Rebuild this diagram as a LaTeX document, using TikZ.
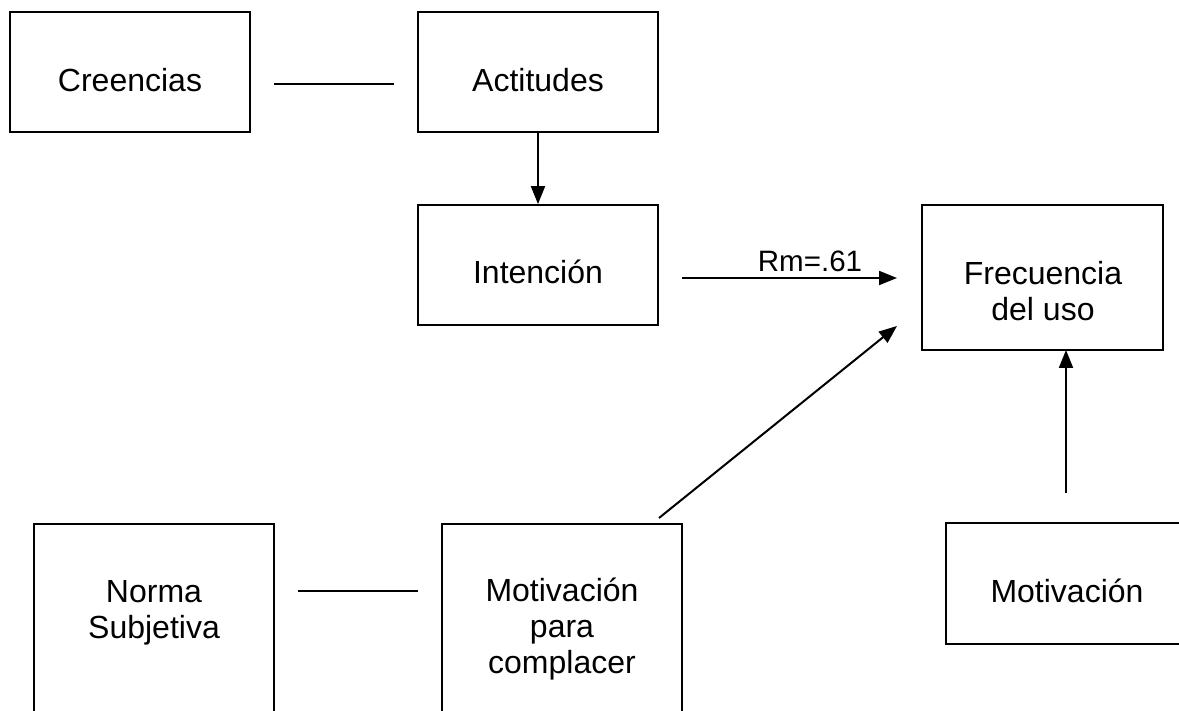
\documentclass[tikz,border=0pt]{standalone}
\usepackage{fontspec}
\setmainfont{Liberation Sans}
\usetikzlibrary{arrows.meta}

\begin{document}
\begin{tikzpicture}[x=1pt, y=-1pt, line width=2pt, >={Triangle[length=18pt,width=14pt]},
  box/.style={draw, line width=1.8pt, minimum width=240pt, minimum height=120pt, inner sep=0pt},
  lbl/.style={align=center, inner sep=0pt, font=\fontsize{32}{36}\selectfont}]

\useasboundingbox (0,0) rectangle (1179,711);
\clip (0,0) rectangle (1179,711);

% cajas
\foreach \n/\x/\y in {creencias/130/72, actitudes/538/72, intencion/538/265}
  \node [box] (\n) at (\x,\y) {};
\node [box, minimum width=241pt, minimum height=145pt] (frecuencia) at (1042.5,277.5) {};
\node [box, minimum height=240pt] (norma) at (154,644) {};
\node [box, minimum height=240pt] (complacer) at (562,644) {};
\node [box, minimum height=121pt] (motivacion) at (1066,583.5) {};

% textos
\foreach \n/\x/\y/\t in {creencias/130/80/Creencias, actitudes/538/80/Actitudes,
    intencion/538/272/Intención, frecuencia/1043/291/Frecuencia\\ del uso,
    norma/154/613/Norma\\ Subjetiva, complacer/562/629/Motivación\\ para\\ complacer,
    motivacion/1067/591/Motivación}
  \node [lbl] (\n-t) at (\x,\y) {\t};

\node [lbl, font=\fontsize{29.5}{34}\selectfont] (rm) at (810,261) {Rm=.61};

% extremos libres
\coordinate (cr-a) at (274,84);
\coordinate (cr-b) at (394,84);
\coordinate (no-a) at (298,591);
\coordinate (no-b) at (418,591);
\coordinate (in-a) at (682,278);
\coordinate (in-b) at (897,278);
\coordinate (co-a) at (659,518);
\coordinate (co-b) at (897,326);
\coordinate (mo-a) at (1066,493);
\coordinate (mo-b) at (1066,350);

\draw (cr-a) -- (cr-b);
\draw (no-a) -- (no-b);
\draw [->] (actitudes) -- (intencion);
\draw [->] (in-a) -- (in-b);
\draw [->] (co-a) -- (co-b);
\draw [->] (mo-a) -- (mo-b);

\end{tikzpicture}
\end{document}
